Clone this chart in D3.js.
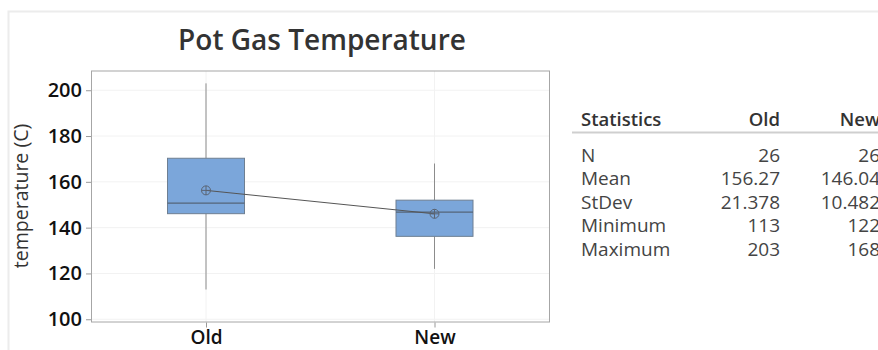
<!DOCTYPE html>
<meta charset="utf-8">
<style>
body { margin: 0; background: #fff; }
text { font-family: "Open Sans", sans-serif; }
.tick text { font-size: 20px; font-weight: 600; fill: #111; }
.tick line { stroke: #999; }
.stats text { font-size: 19px; fill: #444; }
</style>
<svg width="878" height="350"></svg>
<script src="https://d3js.org/d3.v7.min.js"></script>
<script>

var groups = ["Old", "New"];
var q1 = [146.1, 136.2];
var medians = [150.7, 146.8];
var q3 = [170.3, 152.0];
var mins = [113, 122];
var maxs = [203, 168];
var means = [156.27, 146.04];
var yTicks = [100, 120, 140, 160, 180, 200];

var statNames = ["N", "Mean", "StDev", "Minimum", "Maximum"];
var statOld = ["26", "156.27", "21.378", "113", "203"];
var statNew = ["26", "146.04", "10.482", "122", "168"];

var svg = d3.select("svg");

// outer frame
svg.append("rect").attr("x", 8.5).attr("y", 11.5).attr("width", 900).attr("height", 400)
  .attr("fill", "none").attr("stroke", "#ececec").attr("stroke-width", 2);

var plotL = 91.5, plotR = 549.5, plotT = 71, plotB = 322;

var y = d3.scaleLinear().domain([98.8, 208.4]).range([plotB, plotT]);
var x = d3.scalePoint().domain(groups).range([206, 434.5]);

// gridlines
svg.append("g").selectAll("line").data(yTicks).enter().append("line")
  .attr("x1", plotL).attr("x2", plotR)
  .attr("y1", function(d) { return y(d); }).attr("y2", function(d) { return y(d); })
  .attr("stroke", "#f2f2f2");
svg.append("g").selectAll("line").data(groups).enter().append("line")
  .attr("x1", function(d) { return x(d); }).attr("x2", function(d) { return x(d); })
  .attr("y1", plotT).attr("y2", plotB)
  .attr("stroke", "#f2f2f2");

// plot frame
svg.append("rect").attr("x", plotL).attr("y", plotT).attr("width", plotR - plotL).attr("height", plotB - plotT)
  .attr("fill", "none").attr("stroke", "#a6a6a6").attr("stroke-width", 1);

// axes
var yAxis = svg.append("g").attr("transform", "translate(" + (plotL - 0.5) + ",0)")
  .call(d3.axisLeft(y).tickValues(yTicks).tickSize(5).tickPadding(4));
yAxis.select(".domain").remove();

var xAxis = svg.append("g").attr("transform", "translate(0," + (plotB + 0.5) + ")")
  .call(d3.axisBottom(x).tickSize(5).tickPadding(3));
xAxis.select(".domain").remove();
xAxis.selectAll("text").style("font-size", "19px");

// title and y label
svg.append("text").attr("x", 322).attr("y", 50).attr("text-anchor", "middle")
  .style("font-size", "28px").style("font-weight", 600).style("fill", "#333")
  .text("Pot Gas Temperature");

svg.append("text").attr("transform", "translate(28," + ((plotT + plotB) / 2 - 0.5) + ") rotate(-90)")
  .attr("text-anchor", "middle").style("font-size", "19.5px").style("fill", "#333")
  .text("temperature (C)");

// boxes
var boxW = 77;
var g = svg.append("g");
groups.forEach(function(name, i) {
  var cx = x(name);
  g.append("line").attr("x1", cx).attr("x2", cx).attr("y1", y(maxs[i])).attr("y2", y(q3[i]))
    .attr("stroke", "#8c8c8c").attr("stroke-width", 1);
  g.append("line").attr("x1", cx).attr("x2", cx).attr("y1", y(q1[i])).attr("y2", y(mins[i]))
    .attr("stroke", "#8c8c8c").attr("stroke-width", 1);
  g.append("rect").attr("x", cx - boxW / 2).attr("y", y(q3[i]))
    .attr("width", boxW).attr("height", y(q1[i]) - y(q3[i]))
    .attr("fill", "#7ba6da").attr("stroke", "#6e7f92").attr("stroke-width", 1);
  g.append("line").attr("x1", cx - boxW / 2).attr("x2", cx + boxW / 2)
    .attr("y1", y(medians[i])).attr("y2", y(medians[i]))
    .attr("stroke", "#556478").attr("stroke-width", 1.2);
});

// mean connect line
g.append("path").datum(means)
  .attr("d", d3.line().x(function(d, i) { return x(groups[i]); }).y(function(d) { return y(d); }))
  .attr("fill", "none").attr("stroke", "#555").attr("stroke-width", 1);

// mean symbols
groups.forEach(function(name, i) {
  var cx = x(name), cy = y(means[i]);
  g.append("circle").attr("cx", cx).attr("cy", cy).attr("r", 4.5)
    .attr("fill", "none").attr("stroke", "#5a6473").attr("stroke-width", 1);
  g.append("line").attr("x1", cx - 4.5).attr("x2", cx + 4.5).attr("y1", cy).attr("y2", cy)
    .attr("stroke", "#5a6473");
  g.append("line").attr("x1", cx).attr("x2", cx).attr("y1", cy - 4.5).attr("y2", cy + 4.5)
    .attr("stroke", "#5a6473");
});

// statistics table
var st = svg.append("g").attr("class", "stats");
st.append("text").attr("x", 581).attr("y", 125.5)
  .style("font-size", "18.5px").style("font-weight", 600).style("fill", "#333").text("Statistics");
st.append("text").attr("x", 780).attr("y", 125.5).attr("text-anchor", "end")
  .style("font-size", "18.5px").style("font-weight", 600).style("fill", "#333").text("Old");
st.append("text").attr("x", 880).attr("y", 125.5).attr("text-anchor", "end")
  .style("font-size", "18.5px").style("font-weight", 600).style("fill", "#333").text("New");
st.append("line").attr("x1", 572).attr("x2", 878).attr("y1", 132.5).attr("y2", 132.5)
  .attr("stroke", "#cfcfcf").attr("stroke-width", 2);

var rowY = d3.scalePoint().domain(statNames).range([161.5, 255.5]);
statNames.forEach(function(name, i) {
  st.append("text").attr("x", 581).attr("y", rowY(name)).text(name);
  st.append("text").attr("x", 780).attr("y", rowY(name)).attr("text-anchor", "end").text(statOld[i]);
  st.append("text").attr("x", 880).attr("y", rowY(name)).attr("text-anchor", "end").text(statNew[i]);
});

</script>
